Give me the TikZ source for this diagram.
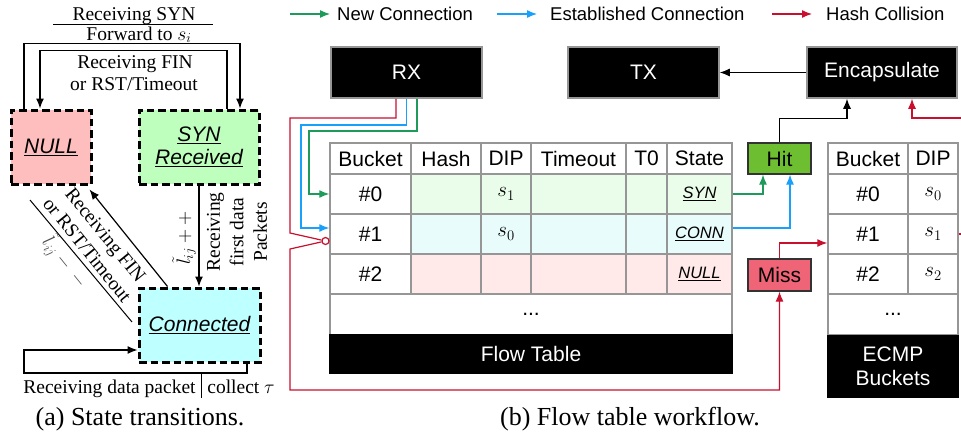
\RequirePackage{fix-cm}
\documentclass[tikz,border=0pt]{standalone}
\usepackage{fontspec}
\setmainfont{Liberation Serif}
\setsansfont{Liberation Sans}
\usetikzlibrary{arrows.meta}
\definecolor{gcol}{RGB}{30,155,90}
\definecolor{bcol}{RGB}{25,160,250}
\definecolor{rcol}{RGB}{200,16,46}
\definecolor{nullfill}{RGB}{255,190,190}
\definecolor{synfill}{RGB}{190,255,190}
\definecolor{connfill}{RGB}{190,255,255}
\definecolor{rowg}{RGB}{234,253,234}
\definecolor{rowb}{RGB}{232,252,252}
\definecolor{rowr}{RGB}{255,233,233}
\definecolor{hitfill}{RGB}{110,190,50}
\definecolor{missfill}{RGB}{240,100,120}
\definecolor{gridc}{RGB}{150,150,150}
\newcommand{\stl}[1]{{\fontsize{16.5}{18}\selectfont\itshape\underline{#1}}}
\begin{document}
\begin{tikzpicture}[x=1pt,y=-1pt,
  serif/.style={font=\fontsize{19.5}{23.5}\selectfont, inner sep=0pt},
  capt/.style={font=\fontsize{26}{30}\selectfont, inner sep=0pt},
  statebox/.style={draw, line width=3pt, dash pattern=on 7.5pt off 4pt, inner sep=0pt, align=center, font=\sffamily\itshape\fontsize{21}{23}\selectfont},
  arr/.style={-{Latex[length=10pt,width=8pt]}, line width=1.2pt},
  thin/.style={line width=1pt},
  cell/.style={draw=gridc, line width=1.5pt, inner sep=0pt, font=\sffamily\fontsize{21}{25}\selectfont, minimum height=40pt},
  blk/.style={fill=black, draw=gridc, line width=1.5pt, text=white, inner sep=0pt, align=center, font=\sffamily\fontsize{21}{24}\selectfont},
  res/.style={draw=black!80, line width=1.2pt, inner sep=0pt, minimum width=63pt, font=\sffamily\fontsize{21}{25}\selectfont},
  leg/.style={anchor=west, inner sep=0pt, font=\sffamily\fontsize{18.5}{22}\selectfont}
]
\useasboundingbox (0,0) rectangle (961,439);
\clip (0,0) rectangle (961,439);

% ---------------- (a) state transitions ----------------
\node[statebox, fill=nullfill, minimum width=80pt, minimum height=74pt] (null) at (51,147) {\underline{NULL}};
\node[statebox, fill=synfill, minimum width=120pt, minimum height=74pt] (syn) at (199,147) {\underline{SYN}\\\underline{Received}};
\node[statebox, fill=connfill, minimum width=121pt, minimum height=74pt] (conn) at (199.5,325) {\underline{Connected}};

\node[serif, anchor=base] (t1) at (134,20) {Receiving SYN};
\coordinate (fb1) at (53,24); \coordinate (fb2) at (213,24);
\draw[thin] (fb1) -- (fb2);
\node[serif, anchor=base] (t2) at (139,40) {Forward to $s_i$};
\draw[arr] ([xshift=-27pt]null.north) |- ([xshift=41pt,yshift=65pt]syn.north) -- ([xshift=41pt]syn.north);

\node[serif, anchor=base] (t3) at (135,68) {Receiving FIN};
\node[serif, anchor=base] (t4) at (134,90) {or RST/Timeout};
\draw[arr] ([xshift=28pt]syn.north) |- ([xshift=-11pt,yshift=58pt]null.north) -- ([xshift=-11pt]null.north);

\draw[arr] (syn.south) -- (syn.south |- conn.north);
\node[serif, rotate=90] (lpp) at (184,238) {$\tilde{l}_{ij}++$};
\node[serif, rotate=90, align=center] (rfd) at (237,232) {Receiving\\first data\\Packets};

\draw[arr] ([xshift=-32pt]conn.north) -- ([xshift=-3pt,yshift=-4pt]null.south east);
\node[serif, rotate=-51, align=center] (rfin) at (96.5,242.5) {Receiving FIN\\or RST/Timeout};
\coordinate (db1) at (30,200); \coordinate (db2) at (132,322);
\draw[thin] (db1) -- (db2);
\node[serif, rotate=-51, text=black!70] (lmm) at (65,262) {$\tilde{l}_{ij}-\,-$};

\draw[arr] ([xshift=47.5pt]conn.south) |- (24,373) |- ([yshift=-25pt]conn.west);
\node[serif, anchor=base] (rdp) at (109.5,393) {Receiving data packet};
\node[serif, anchor=base] (col) at (241,393) {collect $\tau$};
\coordinate (sp1) at (201,373); \coordinate (sp2) at (201,398);
\draw[thin] (sp1) -- (sp2);

\node[capt, anchor=base] (capa) at (140,425) {(a) State transitions.};

% ---------------- (b) flow table workflow ----------------
% legend
\coordinate (lg1a) at (290,14); \coordinate (lg1b) at (330,14);
\draw[arr, gcol] (lg1a) -- (lg1b);
\node[leg] (lt1) at (337,14) {New Connection};
\coordinate (lg2a) at (497,14); \coordinate (lg2b) at (537,14);
\draw[arr, bcol] (lg2a) -- (lg2b);
\node[leg] (lt2) at (550,14) {Established Connection};
\coordinate (lg3a) at (772,14); \coordinate (lg3b) at (812,14);
\draw[arr, rcol] (lg3a) -- (lg3b);
\node[leg] (lt3) at (826,14) {Hash Collision};

% black boxes
\node[blk, minimum width=151pt, minimum height=51pt] (rx) at (406.5,72.5) {RX};
\node[blk, minimum width=151pt, minimum height=51pt] (tx) at (643.5,72.5) {TX};
\node[blk, minimum width=150pt, minimum height=51pt] (enc) at (882,72.5) {Encapsulate};
\draw[arr] (enc.west) -- (tx.east);

% flow table header
\node[cell, minimum width=81pt, minimum height=31pt] (hb) at (370.5,158.5) {Bucket};
\node[cell, minimum width=70pt, minimum height=31pt] (hh) at (446,158.5) {Hash};
\node[cell, minimum width=50pt, minimum height=31pt] (hd) at (506,158.5) {DIP};
\node[cell, minimum width=95pt, minimum height=31pt] (ht) at (578.5,158.5) {Timeout};
\node[cell, minimum width=41pt, minimum height=31pt] (h0) at (646.5,158.5) {T0};
\node[cell, minimum width=65pt, minimum height=31pt] (hs) at (699.5,158.5) {State};
% row 0
\node[cell, minimum width=81pt] (b0) at (370.5,194) {\#0};
\node[cell, fill=rowg, minimum width=70pt] (h0r) at (446,194) {};
\node[cell, fill=rowg, minimum width=50pt] (d0) at (506,194) {$s_1$};
\node[cell, fill=rowg, minimum width=95pt] (t0r) at (578.5,194) {};
\node[cell, fill=rowg, minimum width=41pt] (z0) at (646.5,194) {};
\node[cell, fill=rowg, minimum width=65pt] (s0) at (699.5,194) {\stl{SYN}};
% row 1
\node[cell, minimum width=81pt] (b1) at (370.5,234) {\#1};
\node[cell, fill=rowb, minimum width=70pt] (h1r) at (446,234) {};
\node[cell, fill=rowb, minimum width=50pt] (d1) at (506,234) {$s_0$};
\node[cell, fill=rowb, minimum width=95pt] (t1r) at (578.5,234) {};
\node[cell, fill=rowb, minimum width=41pt] (z1) at (646.5,234) {};
\node[cell, fill=rowb, minimum width=65pt] (s1) at (699.5,234) {\stl{CONN}};
% row 2
\node[cell, minimum width=81pt] (b2) at (370.5,274) {\#2};
\node[cell, fill=rowr, minimum width=70pt] (h2r) at (446,274) {};
\node[cell, fill=rowr, minimum width=50pt] (d2) at (506,274) {};
\node[cell, fill=rowr, minimum width=95pt] (t2r) at (578.5,274) {};
\node[cell, fill=rowr, minimum width=41pt] (z2) at (646.5,274) {};
\node[cell, fill=rowr, minimum width=65pt] (s2) at (699.5,274) {\stl{NULL}};
% dots and label
\node[cell, minimum width=402pt, minimum height=41pt] (fdots) at (531,314.5) {...};
\node[blk, draw=black, minimum width=402pt, minimum height=38pt] (ft) at (531,354) {Flow Table};

% ECMP table
\node[cell, minimum width=80pt, minimum height=31pt] (eb) at (868,158.5) {Bucket};
\node[cell, minimum width=50pt, minimum height=31pt] (ed) at (933,158.5) {DIP};
\node[cell, minimum width=80pt] (e0) at (868,194) {\#0};
\node[cell, minimum width=50pt] (e0d) at (933,194) {$s_0$};
\node[cell, minimum width=80pt] (e1) at (868,234) {\#1};
\node[cell, minimum width=50pt] (e1d) at (933,234) {$s_1$};
\node[cell, minimum width=80pt] (e2) at (868,274) {\#2};
\node[cell, minimum width=50pt] (e2d) at (933,274) {$s_2$};
\node[cell, minimum width=130pt, minimum height=41pt] (edots) at (893,314.5) {...};
\node[blk, draw=black, minimum width=130pt, minimum height=62pt] (ecmp) at (893,366.5) {ECMP\\Buckets};

% Hit / Miss
\node[res, fill=hitfill, minimum height=31pt] (hit) at (779.5,158.5) {Hit};
\node[res, fill=missfill, minimum height=32pt] (miss) at (779.5,275) {Miss};

% RX -> table
\draw[arr, gcol] ([xshift=10.5pt]rx.south) |- (309,131) |- (b0.west);
\draw[arr, bcol] (rx.south) |- (301,125) |- ([yshift=6pt]b1.west);
\node[circle, draw=rcol, line width=1.2pt, fill=white, minimum size=7pt, inner sep=0pt] (sw) at (325.5,241) {};
\draw[line width=1.2pt, rcol] ([xshift=-10.5pt]rx.south) |- (290,118) -- (290,233) -- (sw);
\draw[arr, rcol] (sw) -- (290,249) -- (290,390) -| (miss.south);

% table -> Hit
\draw[arr, gcol] (s0.east) -| ([xshift=-16.5pt]hit.south);
\draw[arr, bcol] ([yshift=6pt]s1.east) -| ([xshift=10.5pt]hit.south);
\draw[arr] (hit.north) |- ([xshift=-35pt,yshift=-20pt]enc.south) -- ([xshift=-35pt]enc.south);

% Miss -> ECMP
\draw[arr, rcol] (miss.north) |- ([yshift=-9pt]e1.west);
\draw[arr, rcol] (e1d.east) -- (985,234) -- (985,118) -| ([xshift=30pt]enc.south);

\node[capt, anchor=base] (capb) at (630,425) {(b) Flow table workflow.};
\end{tikzpicture}
\end{document}
